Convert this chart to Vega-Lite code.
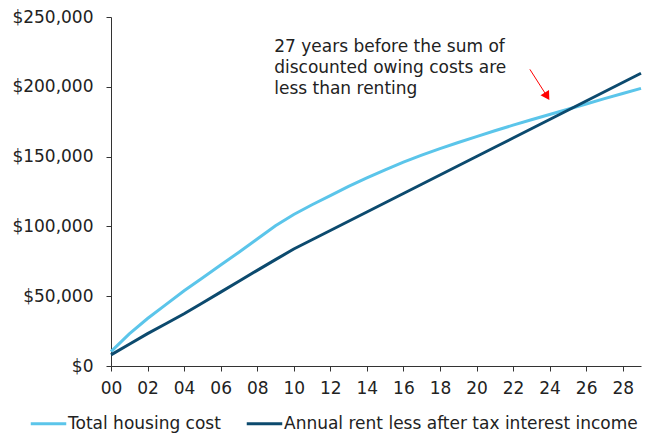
{
  "$schema": "https://vega.github.io/schema/vega-lite/v6.json",
  "width": 530,
  "height": 349,
  "autosize": "none",
  "padding": {"left": 111, "top": 17, "right": 5, "bottom": 68},
  "background": "white",
  "config": {
    "font": "DejaVu Sans",
    "view": {"stroke": null},
    "axis": {
      "labelFont": "DejaVu Sans",
      "labelFontSize": 17,
      "labelColor": "#222222",
      "domainColor": "#333333",
      "tickColor": "#333333",
      "tickSize": 5,
      "grid": false,
      "title": null,
      "labelOverlap": false,
      "labelFlush": false
    }
  },
  "datasets": {
    "lines": [
      {"year": 0, "series": "Total housing cost", "value": 10300},
      {"year": 1, "series": "Total housing cost", "value": 23000},
      {"year": 2, "series": "Total housing cost", "value": 34000},
      {"year": 3, "series": "Total housing cost", "value": 44000},
      {"year": 4, "series": "Total housing cost", "value": 53900},
      {"year": 5, "series": "Total housing cost", "value": 63000},
      {"year": 6, "series": "Total housing cost", "value": 72300},
      {"year": 7, "series": "Total housing cost", "value": 81500},
      {"year": 8, "series": "Total housing cost", "value": 91000},
      {"year": 9, "series": "Total housing cost", "value": 100500},
      {"year": 10, "series": "Total housing cost", "value": 108500},
      {"year": 11, "series": "Total housing cost", "value": 115500},
      {"year": 12, "series": "Total housing cost", "value": 122000},
      {"year": 13, "series": "Total housing cost", "value": 128600},
      {"year": 14, "series": "Total housing cost", "value": 134700},
      {"year": 15, "series": "Total housing cost", "value": 140500},
      {"year": 16, "series": "Total housing cost", "value": 146000},
      {"year": 17, "series": "Total housing cost", "value": 151000},
      {"year": 18, "series": "Total housing cost", "value": 155700},
      {"year": 19, "series": "Total housing cost", "value": 160100},
      {"year": 20, "series": "Total housing cost", "value": 164300},
      {"year": 21, "series": "Total housing cost", "value": 168500},
      {"year": 22, "series": "Total housing cost", "value": 172500},
      {"year": 23, "series": "Total housing cost", "value": 176400},
      {"year": 24, "series": "Total housing cost", "value": 180200},
      {"year": 25, "series": "Total housing cost", "value": 183900},
      {"year": 26, "series": "Total housing cost", "value": 187700},
      {"year": 27, "series": "Total housing cost", "value": 191500},
      {"year": 28, "series": "Total housing cost", "value": 195200},
      {"year": 29, "series": "Total housing cost", "value": 198900},
      {"year": 0, "series": "Annual rent less after tax interest income", "value": 8000},
      {"year": 1, "series": "Annual rent less after tax interest income", "value": 15600},
      {"year": 2, "series": "Annual rent less after tax interest income", "value": 23200},
      {"year": 3, "series": "Annual rent less after tax interest income", "value": 30300},
      {"year": 4, "series": "Annual rent less after tax interest income", "value": 37400},
      {"year": 5, "series": "Annual rent less after tax interest income", "value": 45100},
      {"year": 6, "series": "Annual rent less after tax interest income", "value": 52900},
      {"year": 7, "series": "Annual rent less after tax interest income", "value": 60700},
      {"year": 8, "series": "Annual rent less after tax interest income", "value": 68500},
      {"year": 9, "series": "Annual rent less after tax interest income", "value": 76200},
      {"year": 10, "series": "Annual rent less after tax interest income", "value": 83800},
      {"year": 11, "series": "Annual rent less after tax interest income", "value": 90430},
      {"year": 12, "series": "Annual rent less after tax interest income", "value": 97050},
      {"year": 13, "series": "Annual rent less after tax interest income", "value": 103680},
      {"year": 14, "series": "Annual rent less after tax interest income", "value": 110300},
      {"year": 15, "series": "Annual rent less after tax interest income", "value": 116930},
      {"year": 16, "series": "Annual rent less after tax interest income", "value": 123560},
      {"year": 17, "series": "Annual rent less after tax interest income", "value": 130180},
      {"year": 18, "series": "Annual rent less after tax interest income", "value": 136810},
      {"year": 19, "series": "Annual rent less after tax interest income", "value": 143430},
      {"year": 20, "series": "Annual rent less after tax interest income", "value": 150060},
      {"year": 21, "series": "Annual rent less after tax interest income", "value": 156690},
      {"year": 22, "series": "Annual rent less after tax interest income", "value": 163310},
      {"year": 23, "series": "Annual rent less after tax interest income", "value": 169940},
      {"year": 24, "series": "Annual rent less after tax interest income", "value": 176560},
      {"year": 25, "series": "Annual rent less after tax interest income", "value": 183190},
      {"year": 26, "series": "Annual rent less after tax interest income", "value": 189820},
      {"year": 27, "series": "Annual rent less after tax interest income", "value": 196440},
      {"year": 28, "series": "Annual rent less after tax interest income", "value": 203070},
      {"year": 29, "series": "Annual rent less after tax interest income", "value": 209700}
    ],
    "note": [
      {"year": 8.93, "value": 224900, "label": ["27 years before the sum of", "discounted owing costs are", "less than renting"]}
    ],
    "arrow": [
      {"year": 22.92, "value": 212500, "year2": 23.86, "value2": 193200}
    ],
    "head": [
      {"year": 23.86, "value": 193200}
    ]
  },
  "encoding": {
    "x": {
      "field": "year",
      "type": "quantitative",
      "scale": {"domain": [0, 29], "nice": false, "zero": false},
      "axis": {
        "values": [0, 2, 4, 6, 8, 10, 12, 14, 16, 18, 20, 22, 24, 26, 28],
        "labelExpr": "datum.value < 10 ? '0' + datum.value : '' + datum.value",
        "labelPadding": 9,
        "labelOverlap": false,
        "labelFlush": false,
        "labelBound": false,
        "labelSeparation": 0
      }
    },
    "y": {
      "field": "value",
      "type": "quantitative",
      "scale": {"domain": [0, 250000], "nice": false},
      "axis": {
        "values": [0, 50000, 100000, 150000, 200000, 250000],
        "format": "$,.0f",
        "labelPadding": 13,
        "labelOverlap": false,
        "labelFlush": false
      }
    }
  },
  "layer": [
    {
      "data": {"name": "lines"},
      "mark": {"type": "line", "strokeWidth": 3},
      "encoding": {
        "color": {
          "field": "series",
          "type": "nominal",
          "sort": ["Total housing cost", "Annual rent less after tax interest income"],
          "scale": {
            "domain": ["Total housing cost", "Annual rent less after tax interest income"],
            "range": ["#5bc5ea", "#0c4a6e"]
          },
          "legend": {
            "title": null,
            "orient": "none",
            "direction": "horizontal",
            "legendX": -82,
            "legendY": 387,
            "symbolType": "stroke",
            "symbolSize": 1260,
            "symbolStrokeWidth": 3,
            "labelFontSize": 17,
            "labelFont": "DejaVu Sans",
            "labelColor": "#222222",
            "labelLimit": 500,
            "labelOffset": 0,
            "columnPadding": 19
          }
        }
      }
    },
    {
      "data": {"name": "note"},
      "mark": {"type": "text", "align": "left", "baseline": "alphabetic", "fontSize": 17, "lineHeight": 21, "color": "#222222", "font": "DejaVu Sans"},
      "encoding": {
        "text": {"field": "label"}
      }
    },
    {
      "data": {"name": "arrow"},
      "mark": {"type": "rule", "color": "#ff0000", "strokeWidth": 1},
      "encoding": {
        "x2": {"field": "year2"},
        "y2": {"field": "value2"}
      }
    },
    {
      "data": {"name": "head"},
      "mark": {"type": "point", "shape": "triangle-down", "filled": true, "color": "#ff0000", "size": 100, "angle": -32, "opacity": 1},
      "encoding": {}
    }
  ]
}
